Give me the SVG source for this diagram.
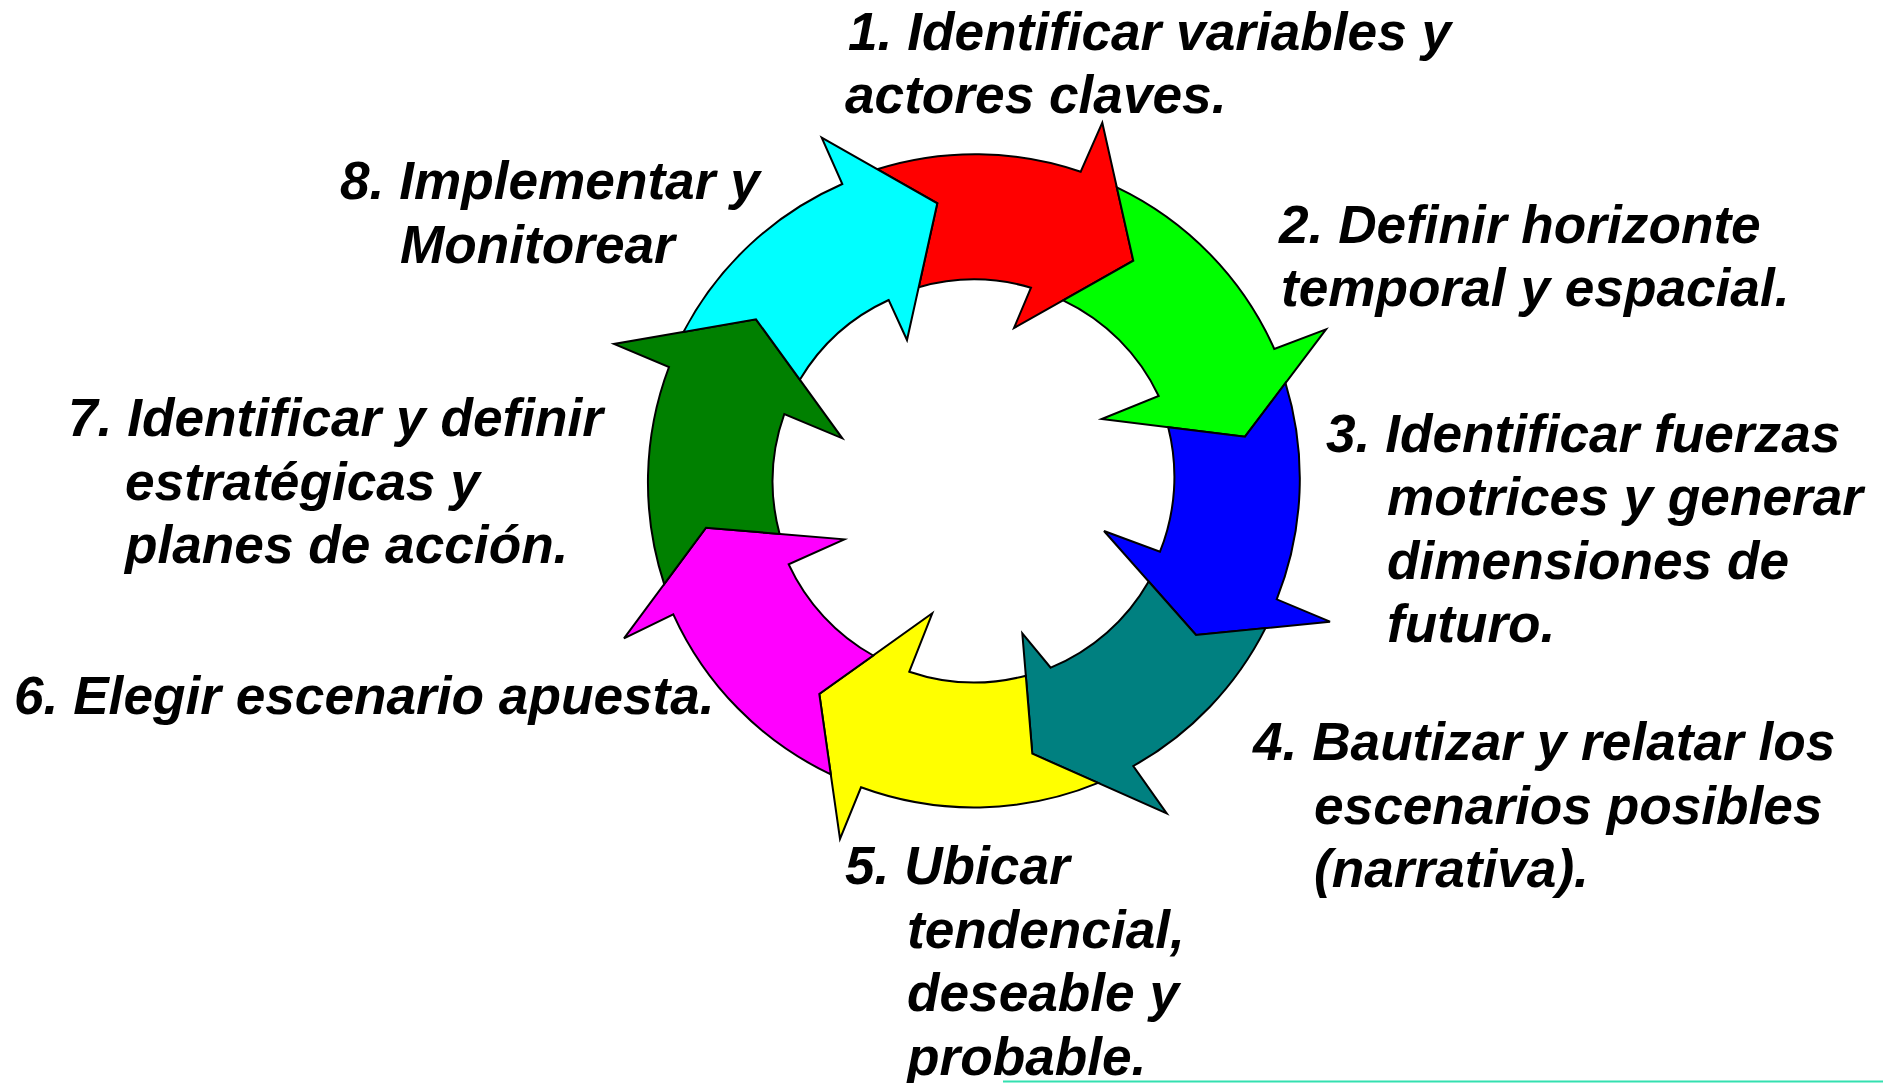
<svg xmlns="http://www.w3.org/2000/svg" width="1883" height="1083" viewBox="0 0 1883 1083">
<style>
.arw{stroke:#000;stroke-width:2;stroke-linejoin:miter}
.lbl{font-family:"Liberation Sans",Arial,sans-serif;font-weight:bold;font-style:italic;font-size:53.2px;fill:#000}
</style>
<rect width="1883" height="1083" fill="#fff"/>
<g id="connectors">
<g id="arrow1"><path class="arw" fill="#FF0000" d="M877.2,169.2 A326.5,326.5 0 0 1 1080.7,171.7 L1102.3,122.7 L1133.3,260.7 L1014,328 L1031,287.7 A201.5,201.5 0 0 0 918.7,287.2 L937.3,203.3 Z"/></g>
<g id="arrow2"><path class="arw" fill="#00FF00" d="M1116.8,187.4 A326.5,326.5 0 0 1 1274.3,349 L1326,329.3 L1245,436.7 L1101.7,419 L1158.7,396 A201.5,201.5 0 0 0 1063.1,300.3 L1133.3,260.7 Z"/></g>
<g id="arrow3"><path class="arw" fill="#0000FF" d="M1285.5,383 A326.5,326.5 0 0 1 1276.7,599.3 L1330,621.7 L1196,635 L1104,531 L1160,551.7 A201.5,201.5 0 0 0 1168.2,427.2 L1245,436.7 Z"/></g>
<g id="arrow4"><path class="arw" fill="#008080" d="M1265.5,628.1 A326.5,326.5 0 0 1 1133.3,766 L1166.7,813.3 L1032.3,753.7 L1022.3,633.3 L1050.7,667.7 A201.5,201.5 0 0 0 1148.7,581.5 L1196,635 Z"/></g>
<g id="arrow5"><path class="arw" fill="#FFFF00" d="M1098.2,782.9 A326.5,326.5 0 0 1 861,787.3 L840,839 L819.3,694 L932.3,613.3 L909.3,671.7 A201.5,201.5 0 0 0 1025.8,675.7 L1032.3,753.7 Z"/></g>
<g id="arrow6"><path class="arw" fill="#FF00FF" d="M830.8,774.4 A326.5,326.5 0 0 1 673.3,614.3 L624,638.3 L706,527.7 L844.3,539.3 L788.7,564.3 A201.5,201.5 0 0 0 873.2,655.5 L819.3,694 Z"/></g>
<g id="arrow7"><path class="arw" fill="#008000" d="M664.2,584.1 A326.5,326.5 0 0 1 669,367 L614,344 L756,319.3 L842.3,438.3 L784.3,414 A201.5,201.5 0 0 0 779.6,533.9 L706,527.7 Z"/></g>
<g id="arrow8"><path class="arw" fill="#00FFFF" d="M683.5,331.9 A326.5,326.5 0 0 1 842.3,184 L821.7,137.7 L937.3,203.3 L907,340 L888.7,300 A201.5,201.5 0 0 0 799.8,379.7 L756,319.3 Z"/></g>
</g>
<g id="label1"><text class="lbl"><tspan x="848" y="50">1. Identificar variables y</tspan><tspan x="845" y="113">actores claves.</tspan></text></g>
<g id="label2"><text class="lbl"><tspan x="1279" y="243">2. Definir horizonte</tspan><tspan x="1281" y="306">temporal y espacial.</tspan></text></g>
<g id="label3"><text class="lbl"><tspan x="1326" y="452">3. Identificar fuerzas</tspan><tspan x="1387" y="515">motrices y generar</tspan><tspan x="1387" y="579">dimensiones de</tspan><tspan x="1387" y="642">futuro.</tspan></text></g>
<g id="label4"><text class="lbl"><tspan x="1253" y="760">4. Bautizar y relatar los</tspan><tspan x="1314" y="824">escenarios posibles</tspan><tspan x="1314" y="887">(narrativa).</tspan></text></g>
<g id="label5"><text class="lbl"><tspan x="845" y="884">5. Ubicar</tspan><tspan x="907" y="948">tendencial,</tspan><tspan x="907" y="1011">deseable y</tspan><tspan x="907" y="1075">probable.</tspan></text></g>
<g id="label6"><text class="lbl"><tspan x="14" y="714">6. Elegir escenario apuesta.</tspan></text></g>
<g id="label7"><text class="lbl"><tspan x="68" y="436">7. Identificar y definir</tspan><tspan x="125" y="500">estratégicas y</tspan><tspan x="125" y="563">planes de acción.</tspan></text></g>
<g id="label8"><text class="lbl"><tspan x="340" y="199">8. Implementar y</tspan><tspan x="400" y="263">Monitorear</tspan></text></g>
<line x1="1003" y1="1081.5" x2="1883" y2="1081.5" stroke="#33E0B0" stroke-width="2"/>
</svg>
